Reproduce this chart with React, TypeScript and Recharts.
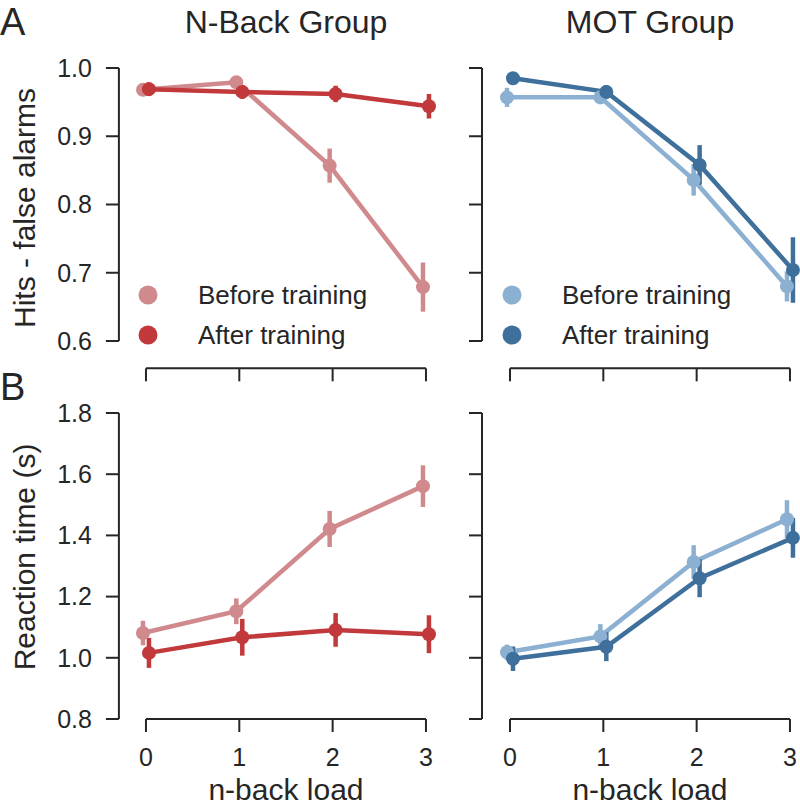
import React from 'react';
import { LineChart, Line, XAxis, YAxis, ErrorBar, ReferenceLine, Legend } from 'recharts';

// ---------- data ----------
const loads = [0, 1, 2, 3];
const seriesNames = ['Before training', 'After training'];

const nbackAccBefore = [0.968, 0.979, 0.857, 0.679];
const nbackAccBeforeErr = [0.008, 0.006, 0.025, 0.036];
const nbackAccAfter = [0.969, 0.965, 0.962, 0.944];
const nbackAccAfterErr = [0.01, 0.01, 0.012, 0.018];

const motAccBefore = [0.957, 0.957, 0.836, 0.68];
const motAccBeforeErr = [0.014, 0.01, 0.023, 0.022];
const motAccAfter = [0.985, 0.965, 0.858, 0.704];
const motAccAfterErr = [0.005, 0.01, 0.029, 0.048];

const nbackRtBefore = [1.081, 1.152, 1.421, 1.561];
const nbackRtBeforeErr = [0.04, 0.042, 0.059, 0.068];
const nbackRtAfter = [1.016, 1.067, 1.091, 1.077];
const nbackRtAfterErr = [0.049, 0.06, 0.055, 0.062];

const motRtBefore = [1.018, 1.07, 1.313, 1.453];
const motRtBeforeErr = [0.025, 0.04, 0.055, 0.062];
const motRtAfter = [0.997, 1.036, 1.26, 1.392];
const motRtAfterErr = [0.04, 0.047, 0.062, 0.065];

const accTicks = [0.6, 0.7, 0.8, 0.9, 1.0];
const rtTicks = [0.8, 1.0, 1.2, 1.4, 1.6, 1.8];

const nbackColors = ['#d0898c', '#c2393c'];
const motColors = ['#8cb0d1', '#3f709c'];

// ---------- styling ----------
const W = 800;
const H = 807;
const FONT = '"Liberation Sans", Arial, Helvetica, sans-serif';
const INK = '#262626';
const DODGE = 0.032;
const LW = 4.5;

const makeSeries = (vals: number[], errs: number[], dodge: number) =>
  loads.map((l, i) => ({ x: l + dodge, y: vals[i], err: errs[i] }));

const renderLegend = (props: any) => {
  const items = [...(props.payload || [])].sort(
    (a: any, b: any) => seriesNames.indexOf(a.value) - seriesNames.indexOf(b.value)
  );
  return (
    <div style={{ fontFamily: FONT }}>
      {items.map((p: any) => (
        <div key={p.value} style={{ display: 'flex', alignItems: 'center', height: 40 }}>
          <svg width={20} height={20} style={{ marginRight: 40, display: 'block' }}>
            <circle cx={10} cy={10} r={9.5} fill={p.color} />
          </svg>
          <span style={{ fontSize: 26, color: INK, lineHeight: '40px', whiteSpace: 'nowrap' }}>{p.value}</span>
        </div>
      ))}
    </div>
  );
};

type PanelProps = {
  before: number[];
  beforeErr: number[];
  after: number[];
  afterErr: number[];
  colors: string[];
  yDomain: number[];
  yTicks: number[];
  xDomain: number[];
  plot: { left: number; right: number; top: number; bottom: number };
  showXLabels: boolean;
  showYLabels: boolean;
  legendPos?: { left: number; top: number };
};

function Panel(p: PanelProps) {
  const dataB = makeSeries(p.before, p.beforeErr, -DODGE);
  const dataA = makeSeries(p.after, p.afterErr, DODGE);
  const YW = 100;
  const XH = p.showXLabels ? 88 : 30;
  const margin = {
    left: p.plot.left - YW,
    right: W - p.plot.right,
    top: p.plot.top,
    bottom: H - p.plot.bottom - XH,
  };
  const tickStyle = { fill: INK, fontSize: 25, fontFamily: FONT };
  return (
    <div style={{ position: 'absolute', left: 0, top: 0, width: W, height: H }}>
      <LineChart width={W} height={H} margin={margin}>
        <XAxis
          type="number"
          dataKey="x"
          domain={p.xDomain}
          ticks={loads}
          interval={0}
          axisLine={false}
          tickLine={{ stroke: INK, strokeWidth: 2 }}
          tickSize={13}
          tickMargin={16}
          height={XH}
          tick={tickStyle}
          tickFormatter={(v: number) => (p.showXLabels ? String(v) : '')}
        />
        <YAxis
          type="number"
          domain={p.yDomain}
          ticks={p.yTicks}
          interval={0}
          width={YW}
          axisLine={false}
          tickLine={{ stroke: INK, strokeWidth: 2 }}
          tickSize={13}
          tickMargin={14}
          tick={tickStyle}
          tickFormatter={(v: number) => (p.showYLabels ? v.toFixed(1) : '')}
        />
        <ReferenceLine
          segment={[
            { x: p.xDomain[0], y: p.yTicks[0] },
            { x: p.xDomain[0], y: p.yTicks[p.yTicks.length - 1] },
          ]}
          stroke={INK}
          strokeWidth={2}
          ifOverflow="visible"
        />
        <ReferenceLine
          segment={[
            { x: loads[0], y: p.yDomain[0] },
            { x: loads[loads.length - 1], y: p.yDomain[0] },
          ]}
          stroke={INK}
          strokeWidth={2}
          ifOverflow="visible"
        />
        <Line
          data={dataB}
          dataKey="y"
          name={seriesNames[0]}
          stroke={p.colors[0]}
          strokeWidth={LW}
          dot={{ r: 7, fill: p.colors[0], stroke: p.colors[0], strokeWidth: 0 }}
          activeDot={false}
          isAnimationActive={false}
        >
          <ErrorBar dataKey="err" width={0} stroke={p.colors[0]} strokeWidth={LW} direction="y" />
        </Line>
        <Line
          data={dataA}
          dataKey="y"
          name={seriesNames[1]}
          stroke={p.colors[1]}
          strokeWidth={LW}
          dot={{ r: 7, fill: p.colors[1], stroke: p.colors[1], strokeWidth: 0 }}
          activeDot={false}
          isAnimationActive={false}
        >
          <ErrorBar dataKey="err" width={0} stroke={p.colors[1]} strokeWidth={LW} direction="y" />
        </Line>
        {p.legendPos && (
          <Legend
            layout="vertical"
            align="center"
            verticalAlign="middle"
            wrapperStyle={{ left: p.legendPos.left, top: p.legendPos.top, width: 'auto', height: 'auto' }}
            content={renderLegend}
          />
        )}
      </LineChart>
    </div>
  );
}

const leftPlotX = { left: 118.9, right: 435.3 };
const rightPlotX = { left: 482, right: 799.3 };
const topPlotY = { top: 68, bottom: 368.3 };
const botPlotY = { top: 413, bottom: 719 };

export default function App() {
  return (
    <div style={{ position: 'absolute', left: 0, top: 0, width: W, height: H, background: '#fff', overflow: 'hidden' }}>
      <Panel
        before={nbackAccBefore}
        beforeErr={nbackAccBeforeErr}
        after={nbackAccAfter}
        afterErr={nbackAccAfterErr}
        colors={nbackColors}
        yDomain={[0.56, 1.0]}
        yTicks={accTicks}
        xDomain={[-0.29, 3.1]}
        plot={{ ...leftPlotX, ...topPlotY }}
        showXLabels={false}
        showYLabels={true}
        legendPos={{ left: 138, top: 275 }}
      />
      <Panel
        before={motAccBefore}
        beforeErr={motAccBeforeErr}
        after={motAccAfter}
        afterErr={motAccAfterErr}
        colors={motColors}
        yDomain={[0.56, 1.0]}
        yTicks={accTicks}
        xDomain={[-0.3, 3.1]}
        plot={{ ...rightPlotX, ...topPlotY }}
        showXLabels={false}
        showYLabels={false}
        legendPos={{ left: 502, top: 275 }}
      />
      <Panel
        before={nbackRtBefore}
        beforeErr={nbackRtBeforeErr}
        after={nbackRtAfter}
        afterErr={nbackRtAfterErr}
        colors={nbackColors}
        yDomain={[0.8, 1.8]}
        yTicks={rtTicks}
        xDomain={[-0.29, 3.1]}
        plot={{ ...leftPlotX, ...botPlotY }}
        showXLabels={true}
        showYLabels={true}
      />
      <Panel
        before={motRtBefore}
        beforeErr={motRtBeforeErr}
        after={motRtAfter}
        afterErr={motRtAfterErr}
        colors={motColors}
        yDomain={[0.8, 1.8]}
        yTicks={rtTicks}
        xDomain={[-0.3, 3.1]}
        plot={{ ...rightPlotX, ...botPlotY }}
        showXLabels={true}
        showYLabels={false}
      />
      <svg
        width={W}
        height={H}
        style={{ position: 'absolute', left: 0, top: 0, pointerEvents: 'none' }}
        fontFamily={FONT}
        fill={INK}
      >
        <text x={0} y={35} fontSize={38}>A</text>
        <text x={0} y={400} fontSize={38}>B</text>
        <text x={286} y={33} fontSize={32} textAnchor="middle">N-Back Group</text>
        <text x={650} y={33} fontSize={32} textAnchor="middle">MOT Group</text>
        <text transform="translate(35,208) rotate(-90)" fontSize={30} textAnchor="middle">Hits - false alarms</text>
        <text transform="translate(35,557) rotate(-90)" fontSize={30} textAnchor="middle">Reaction time (s)</text>
        <text x={286} y={800} fontSize={30} textAnchor="middle">n-back load</text>
        <text x={650} y={800} fontSize={30} textAnchor="middle">n-back load</text>
      </svg>
    </div>
  );
}
